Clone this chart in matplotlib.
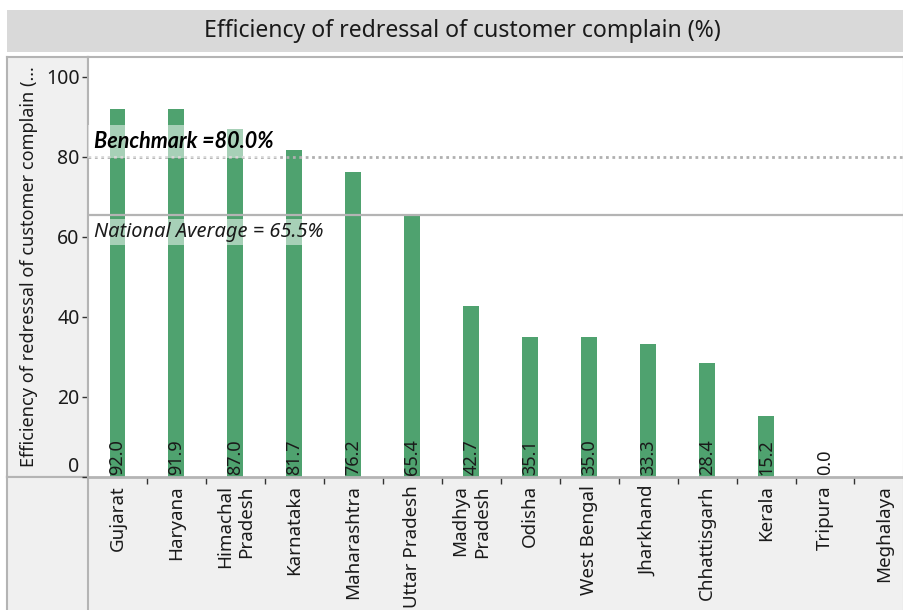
import numpy as np
import matplotlib
matplotlib.use("Agg")
import matplotlib.pyplot as plt
from matplotlib.transforms import blended_transform_factory

plt.rcParams['font.family'] = ['Noto Sans', 'DejaVu Sans']

# data
states = ["Gujarat", "Haryana", "Himachal\nPradesh", "Karnataka", "Maharashtra",
          "Uttar Pradesh", "Madhya\nPradesh", "Odisha", "West Bengal", "Jharkhand",
          "Chhattisgarh", "Kerala", "Tripura", "Meghalaya"]
efficiency = [92.0, 91.9, 87.0, 81.7, 76.2, 65.4, 42.7, 35.1, 35.0, 33.3,
              28.4, 15.2, 0.0, np.nan]
benchmark = 80.0
national_avg = 65.5
yticks = [0, 20, 40, 60, 80, 100]

title = "Efficiency of redressal of customer complain (%)"
ylabel = "Efficiency of redressal of customer complain (..."

W, H = 904, 610
green = "#4fa26f"
border = "#b4b4b4"
panel = "#f0f0f0"
txt = "#1a1a1a"

fig = plt.figure(figsize=(W / 100, H / 100), dpi=100)


def box(x0, y0, x1, y1):
    # pixel box -> figure fraction
    return [x0 / W, 1 - y1 / H, (x1 - x0) / W, (y1 - y0) / H]


def blank(a, fc):
    a.set_facecolor(fc)
    a.set_xticks([])
    a.set_yticks([])
    for s in a.spines.values():
        s.set_color(border)
        s.set_linewidth(1.5)
    return a


# title bar
ax_t = blank(fig.add_axes(box(7, 10, 904, 52)), "#d9d9d9")
for s in ax_t.spines.values():
    s.set_visible(False)
ax_t.text(0.508, 0.5, title, ha="center", va="center", fontsize=16.6, color=txt,
          transform=ax_t.transAxes)

# left (y label) panel
ax_l = blank(fig.add_axes(box(7, 57, 88, 477)), panel)
ax_l.text(0.27, 0.5, ylabel, rotation=90, ha="center", va="center", fontsize=13,
          color=txt, transform=ax_l.transAxes)

# bottom panel
ax_b = blank(fig.add_axes(box(7, 477, 904, 612)), panel)
ax_b.axvline((88 - 7) / (904 - 7), color=border, lw=1.5)

# main plot
ax = fig.add_axes(box(88, 57, 904, 477))
x = np.arange(len(states))
ax.bar(x, efficiency, width=0.27, color=green, zorder=2)

ax.set_xlim(-0.5, 13.34)
ax.set_ylim(0, 105)

ax.axhline(benchmark, color="#b0b0b0", lw=2, ls=(0, (1, 1.3)), zorder=3)
ax.axhline(national_avg, color=border, lw=1.6, zorder=3)

ax.annotate("Benchmark =80.0%", xy=(0, benchmark), xycoords=("axes fraction", "data"),
            xytext=(6, 9), textcoords="offset pixels", ha="left", va="baseline",
            fontsize=15.5, fontweight="bold", fontstyle="italic", color="black",
            family=["Lato", "Open Sans", "DejaVu Sans"],
            bbox=dict(boxstyle="square,pad=0.3", fc="white", ec="none", alpha=0.5),
            zorder=4)
ax.annotate("National Average = 65.5%", xy=(0, national_avg),
            xycoords=("axes fraction", "data"), xytext=(6, -22),
            textcoords="offset pixels", ha="left", va="baseline", fontsize=14.4,
            fontstyle="italic", color=txt,
            bbox=dict(boxstyle="square,pad=0.15", fc="white", ec="none", alpha=0.5),
            zorder=4)

# value labels inside bars
tr = blended_transform_factory(ax.transData, ax.transAxes)
for xi, v in zip(x, efficiency):
    if np.isnan(v):
        continue
    ax.text(xi, 0.004, f"{v:.1f}", rotation=90, ha="center", va="bottom",
            fontsize=13, color=txt, transform=tr, zorder=5)

ax.set_yticks(yticks)
ax.set_yticklabels([str(t) for t in yticks])
ax.get_yticklabels()[0].set_va("bottom")
ax.tick_params(axis="y", length=4.5, width=1, color="#333333", pad=1.5,
               labelsize=14, labelcolor=txt)

ax.set_xticks(x)
ax.set_xticklabels(states, rotation=90, ha="center", va="top", linespacing=1.25)
for lab in ax.get_xticklabels():
    lab.set_multialignment("right")
ax.tick_params(axis="x", which="major", length=0, pad=6, labelsize=13.5, labelcolor=txt)
ax.set_xticks(x[:-1] + 0.5, minor=True)
ax.tick_params(axis="x", which="minor", length=5, width=1, color="#333333")

for s in ax.spines.values():
    s.set_color(border)
    s.set_linewidth(1.5)
ax.spines["bottom"].set_linewidth(2)

fig.savefig("out.png", dpi=100)
